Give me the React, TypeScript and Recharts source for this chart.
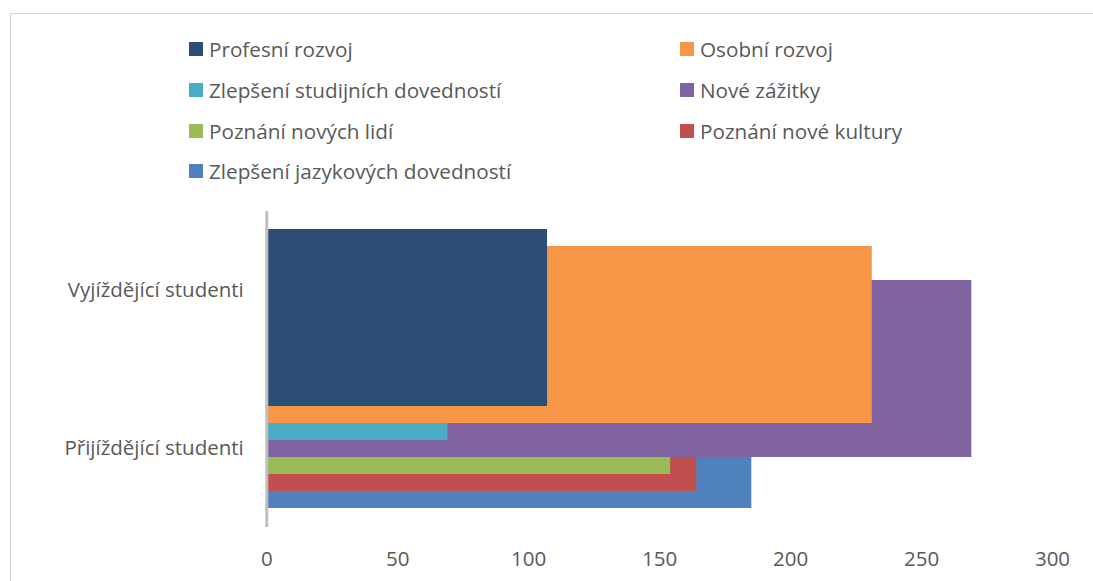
import React from "react";
import { BarChart, Bar, XAxis, YAxis, Cell } from "recharts";

// ---- data ----
const seriesNames = [
  "Profesní rozvoj",
  "Osobní rozvoj",
  "Zlepšení studijních dovedností",
  "Nové zážitky",
  "Poznání nových lidí",
  "Poznání nové kultury",
  "Zlepšení jazykových dovedností",
];
const seriesValues = [107, 231, 69, 269, 154, 164, 185];
const seriesColors = ["#2c4d75", "#f79646", "#4bacc6", "#8064a2", "#9bbb59", "#c0504d", "#4f81bd"];
const categories = ["Vyjíždějící studenti", "Přijíždějící studenti"];
const xTicks = [0, 50, 100, 150, 200, 250, 300];

// rows listed bottom-first so the top series is painted last (on top)
const chartData = seriesNames
  .map((name, i) => ({ name, value: seriesValues[i], color: seriesColors[i] }))
  .reverse();

// category label axis: one unit per category, labels at band centres
const categoryDomain = [0, categories.length];
const categoryTicks = categories.map((_, i) => i + 0.5);

const FONT = "'Open Sans', 'DejaVu Sans', sans-serif";
const TEXT = "#595959";

const legendColX = [189, 680];
const legendRowY = [49, 90, 131, 171];

function Legend() {
  return (
    <>
      {seriesNames.map((name, i) => {
        const col = i % 2;
        const row = Math.floor(i / 2);
        return (
          <div
            key={name}
            style={{
              position: "absolute",
              left: legendColX[col],
              top: legendRowY[row] - 12,
              height: 24,
              display: "flex",
              alignItems: "center",
              whiteSpace: "nowrap",
              fontFamily: FONT,
              fontSize: 20.7,
              lineHeight: "24px",
              color: TEXT,
            }}
          >
            <span
              style={{
                display: "inline-block",
                width: 14,
                height: 14,
                background: seriesColors[i],
                marginRight: 6,
              }}
            />
            <span>{name}</span>
          </div>
        );
      })}
    </>
  );
}

export default function App() {
  return (
    <div
      style={{
        position: "fixed",
        left: 0,
        top: 0,
        width: 1093,
        height: 581,
        overflow: "hidden",
        background: "#ffffff",
      }}
    >
      <div
        style={{
          position: "absolute",
          left: 10,
          top: 13,
          width: 1200,
          height: 800,
          border: "1px solid #d4d4d4",
        }}
      />
      <div style={{ position: "absolute", left: 0, top: 0 }}>
        <BarChart
          width={1093}
          height={581}
          layout="vertical"
          data={chartData}
          margin={{ top: 211, right: 40.5, bottom: 0, left: 16.8 }}
          barCategoryGap={-80}
          style={{ fontFamily: FONT }}
        >
          <XAxis
            type="number"
            domain={[0, 300]}
            ticks={xTicks}
            interval={0}
            axisLine={false}
            tickLine={false}
            tickSize={0}
            tickMargin={24.5}
            height={54}
            tick={{ fill: TEXT, fontSize: 20.5, fontFamily: FONT }}
          />
          <YAxis
            yAxisId="bars"
            type="category"
            dataKey="name"
            hide
            width={0}
            reversed
            padding={{ top: 98, bottom: 99 }}
          />
          <Bar yAxisId="bars" dataKey="value" isAnimationActive={false}>
            {chartData.map((d) => (
              <Cell key={d.name} fill={d.color} />
            ))}
          </Bar>
          <YAxis
            yAxisId="labels"
            type="number"
            dataKey="value"
            domain={categoryDomain}
            allowDataOverflow
            ticks={categoryTicks}
            interval={0}
            width={250}
            axisLine={{ stroke: "#bfbfbf", strokeWidth: 3 }}
            tickLine={false}
            tickSize={0}
            tickMargin={23}
            tickFormatter={(v: number) => categories[Math.floor(v)]}
            tick={{ fill: TEXT, fontSize: 20.5, fontFamily: FONT }}
          />
        </BarChart>
      </div>
      <Legend />
    </div>
  );
}
